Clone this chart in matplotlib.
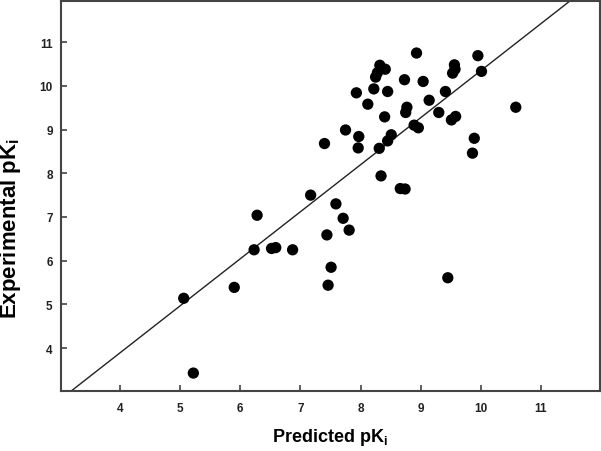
import numpy as np
import matplotlib
matplotlib.use("Agg")
import matplotlib.pyplot as plt

plt.rcParams['font.family'] = ['Liberation Sans', 'DejaVu Sans']
plt.rcParams['mathtext.fontset'] = 'custom'
plt.rcParams['mathtext.rm'] = 'Liberation Sans:bold'
plt.rcParams['mathtext.it'] = 'Liberation Sans:bold'
plt.rcParams['mathtext.bf'] = 'Liberation Sans:bold'

# predicted vs experimental pKi
predicted = [5.06, 5.22, 5.90, 6.23, 6.28, 6.52, 6.59, 6.87, 7.44, 7.51,
             7.46, 7.59, 7.71, 7.81, 9.45, 7.17, 8.34, 8.66, 8.74, 7.40,
             7.75, 7.97, 7.96, 8.31, 8.45, 8.51, 8.89, 8.96, 9.95, 9.56,
             9.57, 9.53, 10.01, 9.41, 9.30, 10.58, 9.58, 9.51, 9.89, 9.86,
             8.93, 8.32, 8.41, 8.28, 8.25, 8.73, 9.04, 7.93, 8.22, 8.45,
             8.12, 9.14, 8.77, 8.75, 8.40]
experimental = [5.14, 3.43, 5.39, 6.25, 7.04, 6.28, 6.30, 6.25, 6.59, 5.85,
                5.44, 7.30, 6.97, 6.70, 5.61, 7.50, 7.94, 7.65, 7.64, 8.68,
                8.99, 8.84, 8.58, 8.57, 8.74, 8.88, 9.10, 9.04, 10.69, 10.48,
                10.38, 10.29, 10.33, 9.87, 9.39, 9.51, 9.30, 9.22, 8.80, 8.46,
                10.75, 10.47, 10.38, 10.30, 10.20, 10.14, 10.10, 9.84, 9.93, 9.87,
                9.58, 9.67, 9.51, 9.39, 9.29]

# fitted line
fit_slope = 1.076
fit_intercept = -0.412

ticks = [4, 5, 6, 7, 8, 9, 10, 11]

fig = plt.figure(figsize=(6.01, 4.52), dpi=100)
ax = fig.add_axes([61/601, 1 - 392/452, 539/601, 390/452])

ax.scatter(predicted, experimental, s=66, color='black', edgecolors='none', zorder=3)

xl = np.array([3.0, 12.0])
ax.plot(xl, fit_slope * xl + fit_intercept, color='#222222', linewidth=1.0, zorder=2)

ax.set_xlim(3.02, 11.98)
ax.set_ylim(3.02, 11.94)
ax.set_xticks(ticks)
ax.set_yticks(ticks)
ax.tick_params(direction='in', length=4, width=1.2, color='#444444',
               labelsize=8.5, labelcolor='#222222')
ax.tick_params(axis='x', pad=8)
ax.tick_params(axis='y', pad=6)
for lab in ax.get_xticklabels() + ax.get_yticklabels():
    lab.set_fontweight('bold')
for sp in ax.spines.values():
    sp.set_color('#444444')
    sp.set_linewidth(1.5)

fig.text(330/601, 1 - 438/452, r'Predicted pK$_\mathrm{i}$', fontsize=13,
         fontweight='bold', ha='center', va='center')
fig.text(11/601, 1 - 228/452, r'Experimental pK$_\mathrm{i}$', fontsize=16,
         fontweight='bold', ha='center', va='center', rotation=90)

fig.savefig('out.png', dpi=100)
